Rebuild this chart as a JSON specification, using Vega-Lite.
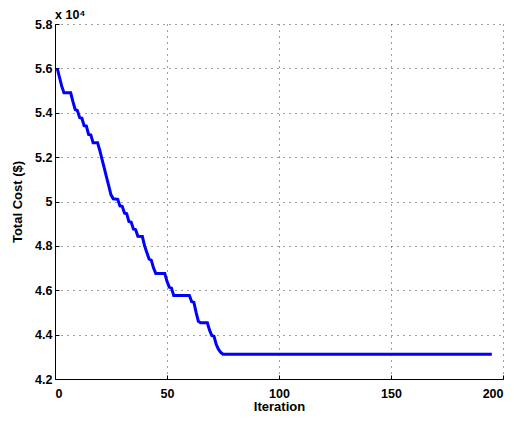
{
  "$schema": "https://vega.github.io/schema/vega-lite/v6.json",
  "autosize": {"type": "none"},
  "padding": {"left": 55, "top": 24, "right": 13, "bottom": 43},
  "width": 448,
  "height": 355,
  "background": "white",
  "config": {
    "font": "Liberation Sans",
    "view": {"stroke": null},
    "axis": {
      "labelFont": "Liberation Sans",
      "labelFontWeight": "bold",
      "labelFontSize": 12.5,
      "labelColor": "#000",
      "titleFont": "Liberation Sans",
      "titleFontWeight": "bold",
      "titleFontSize": 13,
      "titleColor": "#000",
      "domainColor": "#000",
      "domainWidth": 1,
      "tickColor": "#000",
      "tickSize": -4,
      "gridColor": "#000",
      "gridDash": [1, 5],
      "gridOpacity": 0.75,
      "gridWidth": 1
    }
  },
  "title": {
    "text": "x 10⁴",
    "anchor": "start",
    "frame": "group",
    "font": "Liberation Sans",
    "fontSize": 12.5,
    "fontWeight": "bold",
    "color": "#000",
    "offset": -3
  },
  "data": {
    "values": [
      {"iteration": 1, "cost": 56000},
      {"iteration": 2, "cost": 55600},
      {"iteration": 3, "cost": 55200},
      {"iteration": 4, "cost": 54900},
      {"iteration": 7, "cost": 54900},
      {"iteration": 8, "cost": 54500},
      {"iteration": 9, "cost": 54150},
      {"iteration": 10, "cost": 54100},
      {"iteration": 11, "cost": 53780},
      {"iteration": 12, "cost": 53750},
      {"iteration": 13, "cost": 53420},
      {"iteration": 14, "cost": 53400},
      {"iteration": 15, "cost": 53020},
      {"iteration": 16, "cost": 53000},
      {"iteration": 17, "cost": 52650},
      {"iteration": 19, "cost": 52650},
      {"iteration": 20, "cost": 52300},
      {"iteration": 21, "cost": 51900},
      {"iteration": 22, "cost": 51500},
      {"iteration": 23, "cost": 51100},
      {"iteration": 24, "cost": 50700},
      {"iteration": 25, "cost": 50300},
      {"iteration": 26, "cost": 50120},
      {"iteration": 28, "cost": 50100},
      {"iteration": 29, "cost": 49800},
      {"iteration": 30, "cost": 49780},
      {"iteration": 31, "cost": 49480},
      {"iteration": 32, "cost": 49450},
      {"iteration": 33, "cost": 49100},
      {"iteration": 34, "cost": 49070},
      {"iteration": 35, "cost": 48760},
      {"iteration": 36, "cost": 48730},
      {"iteration": 37, "cost": 48430},
      {"iteration": 39, "cost": 48420},
      {"iteration": 40, "cost": 48000},
      {"iteration": 41, "cost": 47700},
      {"iteration": 42, "cost": 47410},
      {"iteration": 43, "cost": 47350},
      {"iteration": 44, "cost": 47000},
      {"iteration": 45, "cost": 46760},
      {"iteration": 49, "cost": 46760},
      {"iteration": 50, "cost": 46400},
      {"iteration": 51, "cost": 46140},
      {"iteration": 52, "cost": 46100},
      {"iteration": 53, "cost": 45760},
      {"iteration": 60, "cost": 45760},
      {"iteration": 61, "cost": 45490},
      {"iteration": 62, "cost": 45450},
      {"iteration": 63, "cost": 45000},
      {"iteration": 64, "cost": 44600},
      {"iteration": 65, "cost": 44530},
      {"iteration": 68, "cost": 44530},
      {"iteration": 69, "cost": 44200},
      {"iteration": 70, "cost": 43960},
      {"iteration": 71, "cost": 43920},
      {"iteration": 72, "cost": 43550},
      {"iteration": 73, "cost": 43330},
      {"iteration": 74, "cost": 43200},
      {"iteration": 75, "cost": 43120},
      {"iteration": 100, "cost": 43120},
      {"iteration": 150, "cost": 43120},
      {"iteration": 195, "cost": 43120}
    ]
  },
  "mark": {"type": "line", "color": "#0000FF", "strokeWidth": 3, "clip": true},
  "encoding": {
    "x": {
      "field": "iteration",
      "type": "quantitative",
      "scale": {"domain": [0, 200], "nice": false, "zero": false},
      "axis": {"title": "Iteration", "values": [0, 50, 100, 150, 200], "labelPadding": 12, "titlePadding": 1}
    },
    "y": {
      "field": "cost",
      "type": "quantitative",
      "scale": {"domain": [42000, 58000], "nice": false, "zero": false},
      "axis": {
        "title": "Total Cost ($)",
        "values": [42000, 44000, 46000, 48000, 50000, 52000, 54000, 56000, 58000],
        "labelExpr": "format(datum.value / 10000, '.1~f')",
        "labelPadding": 7,
        "titlePadding": 10
      }
    }
  }
}
